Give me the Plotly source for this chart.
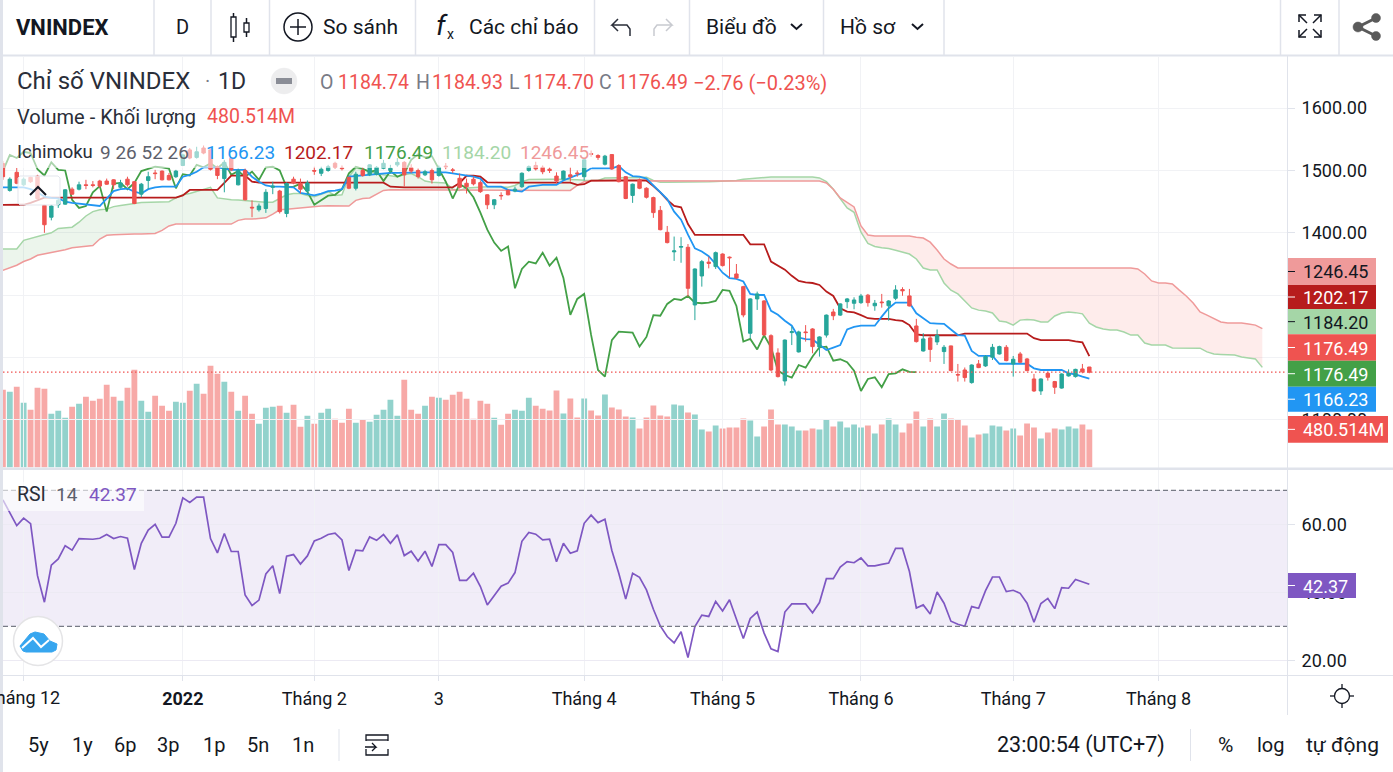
import plotly.graph_objects as go

# daily candles
opens = [1511, 1468, 1497, 1477, 1489, 1491, 1444, 1425, 1445, 1446,
         1470, 1470, 1477, 1477, 1483, 1483, 1485, 1473, 1486, 1482,
         1462, 1484, 1496, 1499, 1492, 1490, 1508, 1533, 1521, 1536,
         1533, 1506, 1487, 1519.6, 1477, 1500, 1441, 1437, 1439, 1473,
         1467, 1431, 1486, 1479, 1467, 1500, 1495.5, 1500, 1511.5, 1504,
         1489, 1471.5, 1500, 1493, 1494, 1503.5, 1500, 1509, 1513, 1504.5,
         1500, 1493, 1500, 1492, 1507, 1501, 1487.5, 1479.5, 1486, 1480.5,
         1461, 1445, 1460, 1468, 1467, 1474, 1500, 1508, 1505, 1502,
         1491, 1486, 1493, 1496, 1490, 1527, 1524, 1510, 1525.5, 1508,
         1490, 1460, 1485, 1471.5, 1456.5, 1436, 1400.8, 1369.5, 1377, 1376.8,
         1284.3, 1330.8, 1353, 1345.8, 1366, 1361, 1334, 1313.7, 1238.9, 1294,
         1290.7, 1235, 1207.3, 1162.4, 1240, 1209, 1241, 1245.8, 1217, 1236,
         1273, 1268, 1289.6, 1287, 1288, 1300, 1283, 1289, 1283, 1295,
         1309, 1298.8, 1250.6, 1210.5, 1231.4, 1225, 1209.5, 1218.6, 1172.7, 1180,
         1159.8, 1189.7, 1186.5, 1200.4, 1205.7, 1216.4, 1189.7, 1205.7, 1197.7, 1165.6,
         1146.4, 1174.7, 1161.4, 1151, 1170.5, 1169.4, 1181.7, 1184.74]
highs = [1515, 1489, 1504, 1489, 1490, 1493, 1445, 1445, 1455, 1470,
         1473, 1482, 1485, 1483, 1485, 1487, 1486, 1485, 1490, 1483,
         1480, 1498, 1501, 1500, 1496, 1501, 1527, 1536, 1538, 1540,
         1535, 1508, 1517, 1521, 1503, 1503, 1452, 1447, 1470, 1482,
         1469, 1481, 1490, 1487, 1484, 1506, 1506, 1509, 1514, 1508,
         1490, 1498, 1505, 1510, 1507, 1517, 1509, 1520, 1515, 1510,
         1503, 1501, 1503, 1508, 1512, 1504, 1495, 1487, 1490, 1484,
         1462, 1454, 1465, 1470, 1474, 1497, 1508, 1514, 1508, 1505,
         1497, 1500, 1505, 1500, 1518, 1532, 1526, 1525, 1526, 1510,
         1491, 1479, 1487, 1473, 1458, 1443, 1411, 1394, 1393, 1382,
         1343, 1356.5, 1361.8, 1370, 1367, 1362, 1350, 1315, 1295, 1305.7,
         1292, 1237.3, 1214.8, 1229, 1249.5, 1243, 1252, 1247, 1234, 1269,
         1278, 1287, 1295.5, 1296.6, 1302, 1302, 1292.3, 1302, 1292, 1316,
         1312.7, 1310, 1262, 1239, 1234.6, 1245, 1220, 1219, 1189.7, 1184,
         1189, 1196, 1204, 1221.8, 1219, 1220, 1202.5, 1209, 1199.3, 1173.7,
         1166.6, 1176.9, 1162.5, 1174.7, 1181, 1182, 1189.7, 1184.93]
lows = [1485, 1466, 1478, 1475, 1480, 1454, 1400, 1420, 1440, 1445,
        1461, 1468, 1470, 1473, 1472, 1477, 1470, 1471, 1474, 1446,
        1457, 1470, 1486, 1484, 1484, 1488, 1507, 1518, 1519, 1526,
        1500, 1486, 1465, 1499, 1476, 1452, 1425, 1434, 1432, 1462,
        1431, 1425, 1478, 1463, 1461, 1493, 1491, 1498, 1503, 1500,
        1470, 1468, 1490, 1491, 1492, 1502, 1495, 1506, 1474, 1496,
        1487, 1491, 1479, 1490, 1502, 1496, 1471, 1463, 1476, 1464,
        1438, 1438, 1453, 1460, 1465, 1472, 1498, 1500, 1494, 1496,
        1479, 1485, 1482, 1490, 1484, 1522, 1517, 1508, 1501, 1481,
        1454, 1448, 1470, 1455, 1424, 1404, 1383, 1355, 1352, 1297.7,
        1260, 1313.7, 1343, 1342, 1346, 1328.7, 1326, 1264.5, 1230.8, 1276.3,
        1235, 1178, 1168, 1155, 1220, 1208, 1225.5, 1206.8, 1201.4, 1232,
        1260, 1266.7, 1279, 1277.4, 1286, 1281.6, 1275, 1280, 1259, 1292,
        1299, 1282, 1224, 1209.5, 1193, 1220, 1189.7, 1178, 1161.4, 1161.4,
        1158, 1183, 1185, 1196, 1204.7, 1194, 1169.4, 1190.8, 1178, 1144.8,
        1140, 1163, 1141.6, 1150, 1169.4, 1167.8, 1174.7, 1174.70]
closes = [1490, 1486, 1479.5, 1486, 1482, 1455, 1413, 1443, 1452, 1469,
          1462, 1477, 1476, 1476, 1475, 1478, 1477, 1480, 1477, 1447,
          1478, 1490, 1495, 1485, 1485, 1499, 1525, 1520, 1530, 1528,
          1502, 1492, 1513, 1501, 1500, 1453, 1440, 1443, 1465, 1475,
          1434, 1479, 1480, 1470, 1480, 1499, 1502, 1506, 1505, 1503,
          1471.5, 1494, 1492, 1509, 1505, 1511.5, 1503.5, 1513, 1493, 1499,
          1490, 1498, 1485, 1505, 1506, 1500, 1473, 1474, 1478.5, 1466,
          1445, 1453, 1459.5, 1461, 1470, 1495.5, 1506, 1502.5, 1498, 1500,
          1483, 1499, 1490, 1495, 1517, 1526, 1521, 1523, 1502.5, 1482,
          1455, 1478, 1471.5, 1457, 1432.4, 1405, 1384.3, 1371, 1378, 1311,
          1342, 1353.8, 1351, 1368.2, 1347.4, 1360, 1327.6, 1268.3, 1294, 1302,
          1236.2, 1180, 1169.4, 1228, 1241.5, 1241, 1240, 1217.5, 1233, 1268,
          1267, 1286, 1294, 1292.3, 1298.7, 1288, 1287, 1288, 1290.7, 1308.4,
          1307, 1282.7, 1225.5, 1229.8, 1213, 1235.7, 1216.4, 1179, 1172, 1167.8,
          1188, 1183.8, 1201.5, 1216.4, 1217.5, 1195, 1197.2, 1192.4, 1179, 1146.4,
          1165.6, 1168.3, 1152.3, 1173.6, 1174.7, 1181, 1177, 1176.49]

# volume in millions
volume = [982, 957, 1020, 818, 729, 1007, 995, 679, 717, 628, 767, 805, 894, 843, 868, 1045,
          894, 843, 1007, 1235, 843, 704, 906, 780, 717, 830, 818, 969, 1058, 932, 1286, 1184,
          1083, 957, 717, 906, 679, 552, 754, 767, 780, 691, 792, 514, 653, 552, 691, 742,
          615, 565, 742, 565, 603, 577, 666, 729, 856, 653, 1109, 729, 679, 780, 894, 881,
          856, 919, 957, 868, 615, 843, 805, 628, 540, 679, 729, 717, 881, 780, 742,
          721, 974, 683, 873, 632, 873, 721, 658, 923, 759, 733, 645, 632, 493, 632, 784,
          658, 645, 797, 784, 695, 670, 481, 455, 531, 493, 506, 506, 620, 594, 392, 518,
          733, 544, 544, 518, 468, 468, 493, 481, 607, 518, 582, 506, 544, 506, 531, 430,
          544, 620, 544, 443, 556, 708, 518, 620, 518, 683, 620, 607, 531, 379, 417, 430,
          531, 518, 468, 493, 405, 556, 506, 367, 443, 493, 481, 518, 493, 544, 480.514]
volume_dir = ["d", "u", "d", "u", "d", "d", "d", "u", "u", "u", "d", "u", "d", "d", "d", "d",
              "d", "u", "d", "d", "u", "u", "d", "d", "d", "u", "u", "d", "u", "d", "d", "d",
              "u", "d", "u", "d", "d", "u", "u", "u", "d", "u", "d", "d", "u", "d", "u", "u",
              "d", "d", "d", "u", "d", "u", "u", "u", "u", "u", "d", "d", "d", "u", "d", "u",
              "d", "d", "d", "d", "d", "d", "d", "u", "d", "d", "u", "u", "u", "d", "d",
              "d", "d", "u", "d", "d", "u", "d", "d", "u", "d", "d", "d", "u", "d", "d", "d",
              "d", "d", "u", "u", "d", "u", "u", "d", "u", "d", "d", "d", "d", "u", "u", "d",
              "d", "d", "u", "u", "u", "d", "d", "u", "u", "d", "u", "u", "u", "u", "d", "u",
              "d", "u", "u", "d", "d", "d", "u", "d", "u", "u", "d", "d", "d", "u", "d", "u",
              "u", "u", "d", "u", "d", "d", "d", "u", "d", "d", "u", "u", "u", "d", "d"]

# Ichimoku lines
conversion = [1473, 1473, 1473, 1473, 1470, 1465, 1458, 1456, 1455.4, 1450,
              1448, 1447, 1446, 1444, 1443, 1455, 1467, 1470, 1471, 1466,
              1463, 1470, 1473, 1474, 1474, 1474, 1490, 1493, 1498, 1505,
              1505, 1505, 1503, 1501, 1501, 1501, 1490, 1482, 1476, 1474,
              1474, 1474, 1473, 1464, 1462, 1460, 1463, 1467, 1467.7, 1470,
              1490, 1491, 1493, 1494, 1495, 1495.5, 1496, 1496, 1496.5, 1497,
              1497, 1497, 1497, 1497, 1497, 1495.5, 1494, 1492, 1490, 1487,
              1474, 1474, 1474, 1469, 1467, 1466, 1474, 1476, 1477, 1477,
              1477, 1484, 1489, 1493, 1496.6, 1503.5, 1503.5, 1503.5, 1503.5, 1507,
              1497, 1491, 1490, 1487, 1476, 1465, 1454, 1434, 1421, 1397,
              1375, 1370, 1362.5, 1350, 1336, 1327.5, 1326, 1322, 1302, 1300.3,
              1300.3, 1275, 1268.5, 1259, 1251, 1232, 1229.5, 1229, 1220, 1212,
              1216, 1220, 1245, 1249, 1251, 1251.5, 1251, 1265.6, 1279, 1288,
              1288, 1288, 1271, 1263, 1255, 1254.5, 1254, 1245, 1236, 1235,
              1210.5, 1202.5, 1202.5, 1202.5, 1190, 1190, 1190, 1190, 1190, 1182.7,
              1180, 1180, 1180, 1180, 1174.7, 1173, 1169.4, 1166.23]
base = [1444.7, 1444.7, 1444.7, 1445, 1448, 1452, 1456.5, 1456.5, 1456.5, 1456.5,
        1456.5, 1456.5, 1456.5, 1456.5, 1456.5, 1456.5, 1456.5, 1456.5, 1456.5, 1456.5,
        1456.5, 1456.5, 1456.5, 1456.5, 1456.5, 1456.5, 1460, 1468.8, 1468.8, 1468.8,
        1468.8, 1468.8, 1480, 1491.8, 1491.8, 1491.8, 1482, 1480.5, 1480.5, 1480.5,
        1480.5, 1480.5, 1480.5, 1480.5, 1480.5, 1480.5, 1480.5, 1480.5, 1480.5, 1480.5,
        1480.5, 1480.5, 1480.5, 1480.5, 1480.5, 1480.5, 1474, 1473, 1473, 1473,
        1473, 1473, 1473, 1473, 1473, 1473, 1480, 1491.5, 1491.5, 1490,
        1481, 1480.5, 1480.5, 1480.5, 1480.5, 1480.5, 1480.5, 1480.5, 1480.5, 1480.5,
        1480.5, 1480.5, 1480.5, 1477, 1478, 1483.7, 1484, 1484, 1484, 1484,
        1484, 1484, 1484, 1484, 1475, 1465, 1452.7, 1443, 1441, 1414,
        1396.6, 1396.6, 1396.6, 1396.6, 1396.6, 1396.6, 1396.6, 1396.6, 1381.6, 1381.6,
        1381.6, 1353.8, 1347.4, 1341, 1331, 1322.8, 1320.5, 1319.5, 1316.4, 1305.7,
        1298.7, 1279, 1273.6, 1272.5, 1268, 1263, 1261.9, 1261.9, 1261.9, 1260,
        1258.7, 1252, 1237, 1235.7, 1235.7, 1235.7, 1235.7, 1235.7, 1235.7, 1238.4,
        1238.4, 1238.4, 1238.4, 1238.4, 1238.4, 1238.4, 1238.4, 1238.4, 1238.4, 1231,
        1228, 1228, 1228, 1228, 1228, 1226, 1224.5, 1202.17]
# closes moved back 25 bars, as the chart draws them
lagging = [1499, 1525, 1520, 1530, 1528, 1502, 1492, 1513, 1501, 1500,
           1453, 1440, 1443, 1465, 1475, 1434, 1479, 1480, 1470, 1480,
           1499, 1502, 1506, 1505, 1503, 1471.5, 1494, 1492, 1509, 1505,
           1511.5, 1503.5, 1513, 1493, 1499, 1490, 1498, 1485, 1505, 1506,
           1500, 1473, 1474, 1478.5, 1466, 1445, 1453, 1459.5, 1461, 1470,
           1495.5, 1506, 1502.5, 1498, 1500, 1483, 1499, 1490, 1495, 1517,
           1526, 1521, 1523, 1502.5, 1482, 1455, 1478, 1471.5, 1457, 1432.4,
           1405, 1384.3, 1371, 1378, 1311, 1342, 1353.8, 1351, 1368.2, 1347.4,
           1360, 1327.6, 1268.3, 1294, 1302, 1236.2, 1180, 1169.4, 1228, 1241.5,
           1241, 1240, 1217.5, 1233, 1268, 1267, 1286, 1294, 1292.3, 1298.7,
           1288, 1287, 1288, 1290.7, 1308.4, 1307, 1282.7, 1225.5, 1229.8, 1213,
           1235.7, 1216.4, 1179, 1172, 1167.8, 1188, 1183.8, 1201.5, 1216.4, 1217.5,
           1195, 1197.2, 1192.4, 1179, 1146.4, 1165.6, 1168.3, 1152.3, 1173.6, 1174.7,
           1181, 1177, 1176.49]
span_a = [1374, 1374, 1374, 1388, 1391, 1394, 1398, 1400, 1407, 1408,
          1409, 1417, 1427, 1434, 1437, 1438, 1442, 1444, 1446, 1447,
          1448.5, 1449, 1449, 1450, 1450, 1456, 1461, 1463, 1466, 1470,
          1473, 1456, 1454, 1453, 1452.7, 1452, 1451.7, 1450, 1449, 1449,
          1455, 1461, 1463, 1463, 1460, 1458, 1462, 1466, 1460, 1461,
          1490, 1504, 1502, 1498, 1495, 1493, 1491, 1490, 1493, 1495,
          1490, 1483, 1481, 1481, 1480, 1470, 1468, 1472, 1473, 1473,
          1474, 1474, 1474, 1473, 1476, 1482, 1485.5, 1486, 1486, 1486,
          1486, 1486, 1485, 1485, 1484.5, 1484, 1484, 1488, 1488, 1488,
          1488, 1488, 1488, 1489, 1484, 1481, 1481, 1481, 1481, 1481,
          1481, 1481, 1482, 1482.5, 1483, 1484, 1484, 1486, 1487, 1488,
          1489.5, 1489.5, 1489.5, 1489.5, 1489.5, 1489.5, 1489.5, 1489.5, 1488, 1482,
          1470, 1455, 1440, 1433, 1401, 1383, 1378, 1376, 1375, 1372,
          1369, 1366, 1358, 1343.6, 1340.4, 1340.4, 1319.6, 1308, 1302, 1291,
          1279.5, 1276, 1274.6, 1271.4, 1258.5, 1257, 1252, 1260, 1261, 1260,
          1257, 1257, 1266.6, 1271.4, 1273, 1272, 1270, 1255, 1249, 1245.8,
          1244, 1244, 1241, 1236, 1236, 1223.3, 1220, 1220, 1220, 1215.4,
          1215.4, 1215.4, 1215.4, 1215, 1209, 1205.7, 1205, 1204, 1204, 1201,
          1199, 1197.7, 1184.20]
span_b = [1340, 1344, 1348, 1354, 1358, 1364, 1366, 1369, 1371, 1373,
          1376, 1377, 1378, 1379.5, 1390, 1396, 1397, 1397.7, 1398, 1398,
          1398, 1398, 1399, 1404, 1411, 1414, 1414, 1414, 1414, 1414,
          1414, 1414, 1414, 1414, 1420, 1422, 1422, 1423, 1424, 1430,
          1437, 1438, 1439, 1440, 1442, 1443, 1443, 1443.6, 1443, 1443,
          1443, 1452, 1455, 1456, 1462, 1468, 1469, 1469, 1469, 1469,
          1469, 1469, 1469, 1469, 1469, 1469, 1469, 1469, 1469, 1469,
          1469, 1469, 1469, 1469, 1469, 1468, 1468, 1468, 1468, 1468,
          1468, 1468, 1468, 1476, 1482, 1483.7, 1483.7, 1483.7, 1483.7, 1483.7,
          1483.7, 1483.7, 1483.7, 1483.7, 1483, 1483, 1483, 1483, 1483, 1483,
          1483, 1483, 1483, 1483, 1483, 1483, 1483, 1483, 1483, 1483,
          1483, 1483, 1483, 1483, 1483, 1483, 1483, 1483, 1483, 1480,
          1470, 1456, 1448, 1441.5, 1411, 1396.5, 1395, 1395, 1395, 1395,
          1395, 1395, 1393, 1391.7, 1385, 1372.5, 1358, 1350, 1343.6, 1343.6,
          1343.6, 1343.6, 1343.6, 1343.6, 1343.6, 1343.6, 1343.6, 1343.6, 1343.6, 1343.6,
          1343.6, 1343.6, 1343.6, 1343.6, 1343.6, 1343.6, 1343.6, 1343.6, 1343.6, 1343.6,
          1343.6, 1343.6, 1343.6, 1343.6, 1342, 1334, 1322.8, 1319.6, 1319.6, 1318,
          1308, 1298.7, 1287.5, 1273, 1268, 1263, 1257, 1255.4, 1255.4, 1255.4,
          1253.8, 1252, 1246.45]
rsi = [67.2, 63.4, 59.6, 61.8, 60.2, 44.9, 37.1, 48.0, 49.8, 53.7, 52.4, 55.8, 55.8, 55.6, 55.9, 57.0,
       55.8, 56.4, 55.9, 46.7, 54.4, 58.3, 60.0, 56.2, 56.2, 60.3, 67.8, 66.4, 68.0, 68.0, 55.8, 51.6,
       57.3, 52.0, 52.0, 39.2, 36.1, 37.7, 45.4, 47.8, 39.6, 50.6, 51.1, 48.3, 50.7, 55.1, 55.9, 57.0,
       57.4, 55.4, 46.4, 52.4, 52.2, 56.3, 55.3, 57.0, 54.4, 56.9, 50.8, 52.1, 49.2, 52.1, 47.6, 54.0,
       54.0, 51.7, 43.5, 43.5, 45.6, 41.7, 36.3, 39.0, 41.8, 42.7, 45.8, 55.0, 57.6, 57.1, 55.4,
       55.6, 49.0, 54.4, 51.5, 52.2, 60.3, 62.7, 60.5, 61.5, 52.3, 45.6, 38.0, 45.6, 44.4, 40.7, 35.0,
       30.1, 27.0, 25.1, 28.4, 20.8, 29.9, 33.3, 32.9, 37.3, 34.5, 37.8, 32.4, 26.4, 32.3, 34.2, 28.0,
       23.4, 22.6, 34.2, 36.6, 36.7, 36.6, 34.0, 37.0, 44.0, 44.0, 47.4, 49.0, 48.7, 50.1, 47.8, 47.8,
       48.2, 48.6, 52.9, 52.9, 46.1, 35.4, 36.3, 33.6, 40.1, 36.8, 31.5, 30.6, 30.0, 35.8, 35.3, 40.5,
       44.5, 44.5, 40.2, 40.6, 39.7, 36.8, 31.2, 36.7, 38.2, 35.2, 41.4, 41.2, 43.8, 43.1, 42.37]

price_ticks = [1100, 1200, 1300, 1400, 1500, 1600]
price_labels = ["1100.00", "", "", "1400.00", "1500.00", "1600.00"]
rsi_ticks = [20, 40, 60]
month_ticks = [3, 26, 45, 63, 84, 104, 124, 146, 167]
month_labels = ["", "<b>2022</b>", "Tháng 2", "3", "Tháng 4", "Tháng 5", "Tháng 6", "Tháng 7", "Tháng 8"]
last_close = 1176.49
cloud_split = 120

W, H = 1393, 772
FONT = "Roboto"
RED = "#ef5350"
TEAL = "#26a69a"
LINE = "#e0e3eb"
INK = "#131722"


def px_x(x):
    return x / W


def px_y(y):
    return 1 - y / H


def poly(points, close=False):
    d = "M" + " L".join(f"{px_x(x):.5f},{px_y(y):.5f}" for x, y in points)
    return d + (" Z" if close else "")


shapes = []
notes = []


def rect(x0, y0, x1, y1, fill, line=None, lw=1, layer="above"):
    shapes.append(dict(type="rect", xref="paper", yref="paper", x0=px_x(x0), x1=px_x(x1),
                       y0=px_y(y0), y1=px_y(y1), fillcolor=fill, layer=layer,
                       line=dict(color=line or fill, width=lw if line else 0)))


def stroke(points, color=INK, lw=1.5, close=False, fill=None):
    shapes.append(dict(type="path", xref="paper", yref="paper", path=poly(points, close),
                       line=dict(color=color, width=lw), fillcolor=fill, layer="above"))


def circle(cx, cy, r, color=INK, lw=1.5, fill=None):
    shapes.append(dict(type="circle", xref="paper", yref="paper", x0=px_x(cx - r), x1=px_x(cx + r),
                       y0=px_y(cy + r), y1=px_y(cy - r), fillcolor=fill, layer="above",
                       line=dict(color=color, width=lw)))


def text(x, y, s, size=17, color=INK, anchor="left"):
    notes.append(dict(xref="paper", yref="paper", x=px_x(x), y=px_y(y), text=s, showarrow=False,
                      xanchor=anchor, yanchor="middle", borderpad=0, borderwidth=0,
                      font=dict(family=FONT, size=size, color=color)))


idx = list(range(len(closes)))
vol_colors = ["rgba(239,83,80,0.5)" if d == "d" else "rgba(38,166,154,0.5)" for d in volume_dir]

fig = go.Figure()
fig.add_trace(go.Bar(x=idx, y=volume, marker=dict(color=vol_colors, line=dict(width=0)), width=0.84,
                     xaxis="x", yaxis="y", hoverinfo="skip"))

# cloud, green while span A is on top and red after the cross
fa = list(range(cloud_split + 1))
fb = list(range(cloud_split, len(span_a)))
fig.add_trace(go.Scatter(x=fa, y=span_b[:cloud_split + 1], mode="lines", line=dict(width=0), xaxis="x", yaxis="y2"))
fig.add_trace(go.Scatter(x=fa, y=span_a[:cloud_split + 1], mode="lines", line=dict(width=0), fill="tonexty",
                         fillcolor="rgba(67,160,71,0.1)", xaxis="x", yaxis="y2"))
fig.add_trace(go.Scatter(x=fb, y=span_b[cloud_split:], mode="lines", line=dict(width=0), xaxis="x", yaxis="y2"))
fig.add_trace(go.Scatter(x=fb, y=span_a[cloud_split:], mode="lines", line=dict(width=0), fill="tonexty",
                         fillcolor="rgba(244,67,54,0.1)", xaxis="x", yaxis="y2"))
for series, color, width in [(span_a, "#a5d6a7", 1.5), (span_b, "#ef9a9a", 1.5), (lagging, "#43a047", 1.8),
                             (base, "#b71c1c", 1.8), (conversion, "#2196f3", 1.8)]:
    fig.add_trace(go.Scatter(x=list(range(len(series))), y=series, mode="lines",
                             line=dict(color=color, width=width), xaxis="x", yaxis="y2"))

fig.add_trace(go.Candlestick(x=idx, open=opens, high=highs, low=lows, close=closes, xaxis="x", yaxis="y3",
                             whiskerwidth=0,
                             increasing=dict(line=dict(color=TEAL, width=1), fillcolor=TEAL),
                             decreasing=dict(line=dict(color=RED, width=1), fillcolor=RED)))
fig.add_trace(go.Scatter(x=idx, y=rsi, mode="lines", line=dict(color="#7e57c2", width=1.7), xaxis="x", yaxis="y4"))

# RSI band and price line
shapes.append(dict(type="rect", xref="x domain", yref="y4", x0=0, x1=1, y0=30, y1=70,
                   fillcolor="rgba(126,87,194,0.11)", line=dict(width=0), layer="below"))
for level in [30, 70]:
    shapes.append(dict(type="line", xref="x domain", yref="y4", x0=0, x1=1, y0=level, y1=level,
                       line=dict(color="#787b86", width=1.2, dash="5px,3px"), layer="above"))
shapes.append(dict(type="line", xref="x domain", yref="y2", x0=0, x1=1, y0=last_close, y1=last_close,
                   line=dict(color=RED, width=1.2, dash="1.5px,2.5px"), layer="above"))

# panes
rect(0, 0, 3, H, LINE)
rect(0, 54.5, W, 56.5, LINE)
rect(3, 467.5, W, 470, LINE)
rect(3, 675, W, 676, LINE)
rect(1287, 56, 1288, 715, LINE)
for sx in [154, 211, 269.5, 415.5, 594.5, 689.5, 823.5, 944, 1280.5, 1339]:
    rect(sx - 0.75, 0, sx + 0.75, 55, LINE)
rect(338.5, 729, 339.5, 761, LINE)
rect(1190, 729, 1191, 761, LINE)

# legend backdrops
rect(3, 140, 592, 168, "rgba(255,255,255,0.55)")
rect(3, 482, 144, 511, "rgba(255,255,255,0.6)")
shapes.append(dict(type="path", xref="paper", yref="paper", layer="above", fillcolor="rgba(255,255,255,0.72)",
                   line=dict(color="rgba(224,227,235,0.9)", width=1),
                   path=poly([(20, 176), (58, 176), (60, 178), (60, 203), (58, 205), (20, 205), (18, 203), (18, 178)], True)))
stroke([(30, 195), (38, 187), (46, 195)], "#131722", 2)

# top bar
text(16, 27, "<b>VNINDEX</b>", 22)
text(182, 27, "D", 20, anchor="center")
rect(231, 17, 236, 37, "white", INK, 1.3)
stroke([(233.5, 13), (233.5, 17)])
stroke([(233.5, 37), (233.5, 42)])
rect(244, 23, 249, 32, "white", INK, 1.3)
stroke([(246.5, 18), (246.5, 23)])
stroke([(246.5, 32), (246.5, 37)])
circle(298, 27, 14)
stroke([(290, 27), (306, 27)])
stroke([(298, 19), (298, 35)])
text(323, 27, "So sánh", 21)
text(436, 25, "<i>f</i>", 28)
text(447, 34, "x", 14)
text(469, 27, "Các chỉ báo", 21)
stroke([(630, 36), (630, 29), (627, 25), (612, 25), (618, 19)], "#2a2e39", 1.5)
stroke([(612, 25), (618, 31)], "#2a2e39", 1.5)
stroke([(654, 36), (654, 29), (657, 25), (672, 25), (666, 19)], "#c8cad0", 1.5)
stroke([(672, 25), (666, 31)], "#c8cad0", 1.5)
text(706, 27, "Biểu đồ", 21)
stroke([(791, 24), (796.5, 29), (802, 24)], INK, 2)
text(840, 27, "Hồ sơ", 21)
stroke([(912, 24), (917.5, 29), (923, 24)], INK, 2)
for sx, sy in [(-1, -1), (1, -1), (-1, 1), (1, 1)]:
    cx, cy = 1310 + sx * 11, 26 + sy * 11
    stroke([(cx, cy - sy * 7), (cx, cy), (cx - sx * 7, cy)], INK, 1.5)
    stroke([(cx, cy), (cx - sx * 8, cy - sy * 8)], INK, 1.5)
stroke([(1376, 18), (1358, 27), (1376, 36)], "#5a5a5a", 3)
for cx, cy, r in [(1358, 27, 5), (1376, 18, 4.5), (1376, 36, 4.5)]:
    circle(cx, cy, r, "#5a5a5a", 0.5, "#5a5a5a")

# legend rows
text(17, 81, "Chỉ số VNINDEX", 24, "#2a2e39")
text(205, 81, "·", 20, "#787b86")
text(218, 81, "1D", 23, "#2a2e39")
circle(284, 81, 13, "#ededee", 0.5, "#ededee")
rect(276, 78, 292, 84, "#8a8d96")
for lx, lab, vx, val in [(320, "O", 338, "1184.74"), (416, "H", 432, "1184.93"),
                         (509, "L", 523, "1174.70"), (599, "C", 617, "1176.49")]:
    text(lx, 83, lab, 19.5, "#787b86")
    text(vx, 83, val, 19.5, RED)
text(693, 83, "−2.76 (−0.23%)", 20, RED)
text(17, 117, "Volume - Khối lượng", 20, "#2a2e39")
text(207, 117, "480.514M", 19.5, RED)
text(17, 152, "Ichimoku", 18.5, "#2a2e39")
text(100, 152, "9 26 52 26", 19, "#5d606b")
text(206, 152, "1166.23", 19, "#2196f3")
text(284, 152, "1202.17", 19, "#b71c1c")
text(364, 152, "1176.49", 19, "#43a047")
text(442, 152, "1184.20", 19, "#a5d6a7")
text(520, 152, "1246.45", 19, "#ef9a9a")
text(17, 494, "RSI", 19.5, "#2a2e39")
text(56, 494, "14", 19, "#5d606b")
text(89, 494, "42.37", 19, "#7e57c2")
text(60, 697, "Tháng 12", 18, anchor="right")

# price tags
for y0, y1, bg, fg, label, right in [(258, 285, "#ef9a9a", INK, "1246.45", 1376),
                                     (285, 309, "#b71c1c", "white", "1202.17", 1376),
                                     (309, 334.3, "#a5d6a7", INK, "1184.20", 1376),
                                     (334.3, 360.7, RED, "white", "1176.49", 1376),
                                     (360.7, 386.7, "#43a047", "white", "1176.49", 1376),
                                     (386.7, 411.7, "#2196f3", "white", "1166.23", 1376),
                                     (416, 442.7, RED, "white", "480.514M", 1388),
                                     (573, 598, "#7e57c2", "white", "42.37", 1356)]:
    rect(1288, y0, right, y1, bg)
    rect(1288, (y0 + y1) / 2 - 0.5, 1295, (y0 + y1) / 2 + 0.5, fg)
    text(1303, (y0 + y1) / 2 + 0.5, label, 18, fg)

# tv logo
circle(38, 641, 24.5, "#e4e4e6", 1.5, "white")
stroke([(23, 651), (20, 646), (30, 634), (35, 632), (44, 634), (50, 641), (57, 644), (56, 650), (52, 652), (26, 652)],
       "#37a6ef", 1, True, "#37a6ef")
stroke([(22, 648), (33, 638), (41, 647), (49, 640)], "white", 2)

# gear
circle(1342, 696, 7.5, INK, 1.3)
stroke([(1342, 684), (1342, 688)], INK, 1.3)
stroke([(1342, 704), (1342, 708)], INK, 1.3)
stroke([(1330, 696), (1334, 696)], INK, 1.3)
stroke([(1350, 696), (1354, 696)], INK, 1.3)

# bottom bar
for bx, lab in [(38, "5y"), (82, "1y"), (125, "6p"), (168, "3p"), (214, "1p"), (258, "5n"), (303, "1n")]:
    text(bx, 745, lab, 20, anchor="center")
rect(366, 735, 388, 755, "white", INK, 1.3)
rect(364, 741, 390, 749, "white")
stroke([(366, 740), (388, 740)], INK, 1.3)
stroke([(365, 747), (376, 747), (372, 743)], INK, 1.3)
stroke([(376, 747), (372, 751)], INK, 1.3)
text(1081, 745, "23:00:54 (UTC+7)", 21.5, anchor="center")
text(1225, 745, "%", 21, anchor="center")
text(1271, 745, "log", 20, anchor="center")
text(1342, 745, "tự động", 21, anchor="center")

fig.update_layout(
    width=W, height=H, margin=dict(l=0, r=0, t=0, b=0), paper_bgcolor="white", plot_bgcolor="rgba(0,0,0,0)",
    showlegend=False, boxgap=0.3, hovermode=False, shapes=shapes, annotations=notes,
    xaxis=dict(domain=[px_x(3), px_x(1287)], range=[(3 - 2.9) / 6.92, (1287 - 2.9) / 6.92], anchor="y4",
               tickmode="array", tickvals=month_ticks, ticktext=month_labels, ticks="outside", ticklen=5,
               tickcolor=LINE, ticklabelstandoff=2, showgrid=True, gridcolor="#f1f2f5", zeroline=False,
               showline=False, rangeslider=dict(visible=False), tickangle=0,
               tickfont=dict(family=FONT, size=18, color=INK)),
    yaxis=dict(domain=[px_y(467.5), px_y(56.5)], range=[0, 5196], visible=False, fixedrange=True),
    yaxis2=dict(domain=[px_y(467.5), px_y(56.5)], range=[1023.6, 1682.8], anchor="x", side="right",
                tickmode="array", tickvals=price_ticks, ticktext=price_labels, ticks="outside", ticklen=7,
                ticklabelstandoff=3, tickcolor=LINE, gridcolor="#f1f2f5", zeroline=False, showline=False,
                tickfont=dict(family=FONT, size=18, color=INK)),
    yaxis3=dict(range=[1023.6, 1682.8], overlaying="y2", anchor="x", side="right", visible=False),
    yaxis4=dict(domain=[px_y(675), px_y(470)], range=[15.68, 75.97], anchor="x", side="right",
                tickmode="array", tickvals=rsi_ticks, tickformat=".2f", ticks="outside", ticklen=7,
                ticklabelstandoff=3, tickcolor=LINE, gridcolor="#eceaf3", zeroline=False, showline=False,
                tickfont=dict(family=FONT, size=18, color=INK)),
)

fig.write_html("out.html", config={"displayModeBar": False},
               post_script="document.body.style.margin='0';document.body.style.overflow='hidden';")
